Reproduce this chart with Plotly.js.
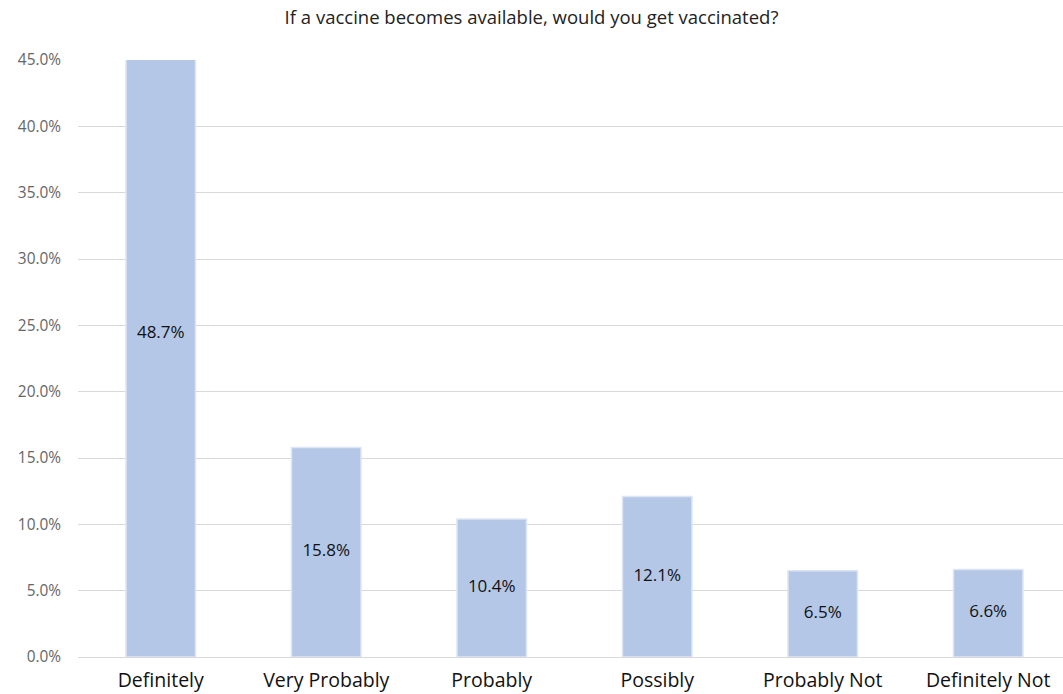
<!DOCTYPE html>
<html>
<head>
<meta charset="utf-8">
<script src="https://cdn.plot.ly/plotly-3.0.1.min.js"></script>
<style>html,body{margin:0;padding:0;background:#fff}#chart{width:1063px;height:694px}</style>
</head>
<body>
<div id="chart"></div>
<script>
const categories = ["Definitely", "Very Probably", "Probably", "Possibly", "Probably Not", "Definitely Not"];
const values = [48.7, 15.8, 10.4, 12.1, 6.5, 6.6];
const labels = values.map(v => v.toFixed(1) + "%");
const yTicks = [0, 5, 10, 15, 20, 25, 30, 35, 40, 45];

const FONT = "'Open Sans', Lato, sans-serif";

const barTrace = {
  type: "bar",
  x: categories,
  y: values,
  marker: { color: "#b4c7e7", line: { color: "#dde6f4", width: 1.5 } },
  width: 0.42,
  hoverinfo: "skip",
  cliponaxis: true
};
const labelTrace = {
  type: "scatter",
  mode: "text",
  x: categories,
  y: values.map(v => v / 2),
  text: labels,
  textposition: "middle center",
  textfont: { family: FONT, size: 17, color: "#111" },
  hoverinfo: "skip",
  cliponaxis: false
};

const layout = {
  width: 1063,
  height: 694,
  margin: { l: 78, r: 0, t: 60, b: 37 },
  paper_bgcolor: "#fff",
  plot_bgcolor: "#fff",
  showlegend: false,
  font: { family: FONT },
  title: {
    text: "If a vaccine becomes available, would you get vaccinated?",
    font: { family: FONT, size: 18.5, color: "#222" },
    x: 0.5, xref: "container", xanchor: "center",
    y: 0.975, yref: "container", yanchor: "middle"
  },
  xaxis: {
    type: "category",
    range: [-0.5, 5.452],
    showgrid: false,
    zeroline: false,
    showline: false,
    ticks: "",
    ticklabelstandoff: 9,
    tickfont: { family: FONT, size: 19.5, color: "#111" },
    fixedrange: true
  },
  yaxis: {
    range: [0, 45],
    tickvals: yTicks,
    ticktext: yTicks.map(t => t.toFixed(1) + "%"),
    showgrid: true,
    gridcolor: "#d9d9d9",
    gridwidth: 1,
    zeroline: true,
    zerolinecolor: "#d9d9d9",
    zerolinewidth: 1,
    showline: false,
    ticks: "",
    ticklabelstandoff: 16,
    tickfont: { family: FONT, size: 15.4, color: "#666666" },
    fixedrange: true
  }
};

Plotly.newPlot("chart", [barTrace, labelTrace], layout, { displayModeBar: false, staticPlot: true });
</script>
</body>
</html>
